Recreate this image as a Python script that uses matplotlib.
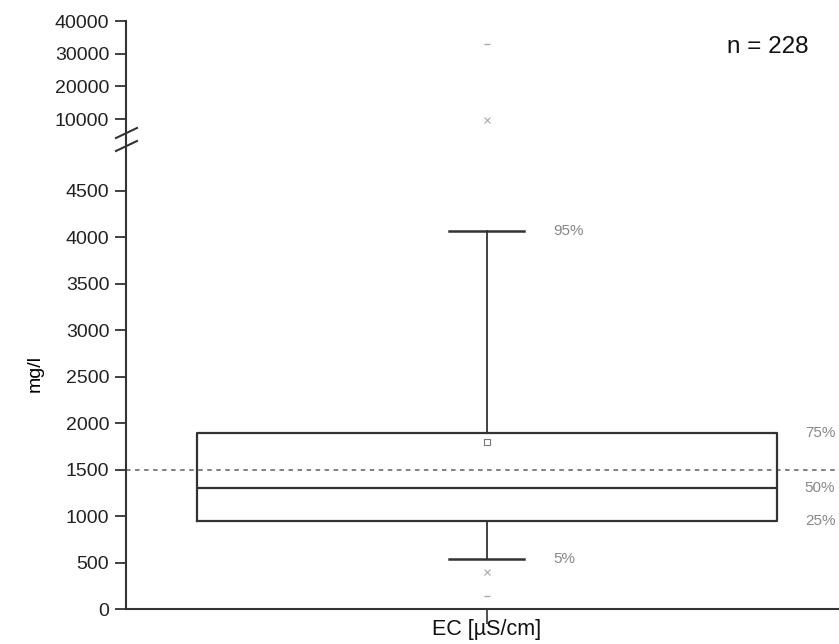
import numpy as np
import matplotlib.pyplot as plt

plt.rcParams['font.family'] = ['Liberation Sans', 'DejaVu Sans']

# box statistics (mg/l)
category = 'EC [\u00b5S/cm]'
p05, q1, med, q3, p95 = 540, 946, 1300, 1892, 4060
mean_val = 1796
p01, p99 = 400, 9700
min_val, max_val = 140, 33000
guide_value = 1500
n_samples = 228

lower_ticks = [0, 500, 1000, 1500, 2000, 2500, 3000, 3500, 4000, 4500]
upper_ticks = [10000, 20000, 30000, 40000]

line_c = '#333333'
grey_c = '#888888'

fig = plt.figure(figsize=(8.39, 6.44), dpi=100)
W, H = 839, 644
left = 126 / W
split = 138
ax_lo = fig.add_axes([left, 1 - 609 / H, 1 - left, (609 - split) / H])
ax_hi = fig.add_axes([left, 1 - split / H, 1 - left, (split - 21) / H])

pos = 0.506
stats = [dict(med=med, q1=q1, q3=q3, whislo=p05, whishi=p95, mean=mean_val,
              fliers=[], label=category)]
ax_lo.bxp(stats, positions=[pos], widths=0.813, showmeans=True, showcaps=True,
          capwidths=0.105, patch_artist=False,
          boxprops=dict(color=line_c, lw=1.6),
          medianprops=dict(color=line_c, lw=1.6),
          whiskerprops=dict(color=line_c, lw=1.3),
          capprops=dict(color=line_c, lw=1.8),
          meanprops=dict(marker='s', markersize=5, markerfacecolor='white',
                         markeredgecolor='#777777', markeredgewidth=0.8))

for ax in (ax_lo, ax_hi):
    ax.plot([pos, pos], [p01, p99], ls='none', marker='x', color='#aaaaaa',
            markersize=4, mew=0.8)
    ax.plot([pos, pos], [min_val, max_val], ls='none', marker='_', color='#aaaaaa',
            markersize=5, mew=1)
    ax.set_xlim(0, 1)
    for s in ('top', 'right'):
        ax.spines[s].set_visible(False)
    ax.spines['left'].set_color(line_c)
    ax.spines['left'].set_linewidth(1.5)
    ax.tick_params(axis='y', direction='out', length=8, width=1.3, colors=line_c,
                   labelsize=14, labelcolor='#222222', pad=4)

ax_lo.axhline(guide_value, color='#777777', lw=1.3, ls=(0, (2.5, 2.5)), zorder=1)
ax_lo.set_ylim(0, 5065)
ax_lo.set_yticks(lower_ticks)
ax_lo.spines['bottom'].set_color(line_c)
ax_lo.spines['bottom'].set_linewidth(1.5)
ax_lo.set_xticks([pos])
ax_lo.set_xticklabels([category], fontsize=15.5, color='#111111')
ax_lo.tick_params(axis='x', direction='out', length=11, width=1.2, colors=line_c,
                  labelcolor='#111111', pad=-4)
ax_lo.set_ylabel('mg/l', fontsize=14, labelpad=16)

ax_hi.set_ylim(4185, 40000)
ax_hi.set_yticks(upper_ticks)
ax_hi.spines['bottom'].set_visible(False)
ax_hi.set_xticks([])
ax_hi.patch.set_alpha(0)

# axis break slashes
for dy in (0, 13):
    fig.add_artist(plt.Line2D([116 / W, 137 / W],
                              [1 - (138 + dy) / H, 1 - (128 + dy) / H],
                              color=line_c, lw=1.5))

# percentile labels
lab = dict(fontsize=11, color=grey_c, va='center', ha='left')
ax_lo.text(0.599, p95, '95%', **lab)
ax_lo.text(0.599, p05, '5%', **lab)
ax_lo.text(0.952, q3, '75%', **lab)
ax_lo.text(0.952, med, '50%', **lab)
ax_lo.text(0.952, q1, '25%', **lab)

fig.text(727 / W, 1 - 47 / H, f'n = {n_samples}', fontsize=17.5, va='center',
         ha='left', color='#111111')

fig.savefig('out.png', dpi=100)
